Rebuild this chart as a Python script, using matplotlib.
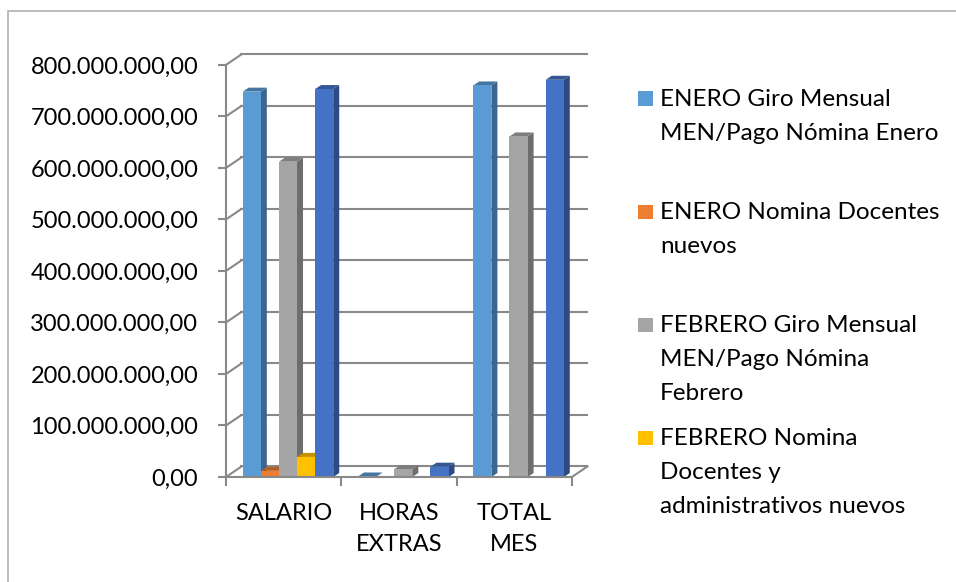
import matplotlib
matplotlib.use('Agg')
import matplotlib.pyplot as plt
from matplotlib.patches import Polygon, Rectangle
from matplotlib.colors import to_rgb
import numpy as np

# datos
categorias = ['SALARIO', 'HORAS\nEXTRAS', 'TOTAL\nMES']
enero_giro = [748e6, 1e6, 760e6]
enero_nuevos = [12e6, 0, 0]
febrero_giro = [612e6, 15e6, 661e6]
febrero_nuevos = [39e6, 0, 0]
serie_5 = [753e6, 20e6, 771e6]
nombres = ['ENERO Giro Mensual\nMEN/Pago Nómina Enero',
           'ENERO Nomina Docentes\nnuevos',
           'FEBRERO Giro Mensual\nMEN/Pago Nómina\nFebrero',
           'FEBRERO Nomina\nDocentes y\nadministrativos nuevos']
colores = ['#5B9BD5', '#ED7D31', '#A5A5A5', '#FFC000', '#4472C4']
series = [enero_giro, enero_nuevos, febrero_giro, febrero_nuevos, serie_5]

plt.rcParams['font.family'] = ['Lato', 'DejaVu Sans']
W, H = 956, 582
gris = '#898989'
fs = 17

fig = plt.figure(figsize=(W / 100, H / 100), dpi=100)
ax = fig.add_axes([226 / W, (H - 477) / H, 362 / W, 424 / H])
ax.set_xlim(0, 3.14)
ax.set_ylim(0, 823e6)

ux = 1 / 115.3          # data x per pixel
uy = 800e6 / 412        # data y per pixel
wdx, wdy = 15.5 * ux, 10.5 * uy   # profundidad de las paredes
bdx, bdy = 6 * ux, 4 * uy         # profundidad de las barras


def oscuro(c, f):
    r, g, b = to_rgb(c)
    return (r * f, g * f, b * f)


# paredes: lineas de division
ticks = np.arange(0, 800e6 + 1, 100e6)
for v in ticks:
    ax.plot([0, wdx], [v, v + wdy], color=gris, lw=1.5, clip_on=False, zorder=1)
    ax.plot([wdx, 3 + wdx], [v + wdy, v + wdy], color=gris, lw=1.5, clip_on=False, zorder=1)
ax.plot([3, 3 + wdx], [0, wdy], color=gris, lw=1.5, clip_on=False, zorder=1)

# barras
ancho = 0.157
inicio = 0.145
x = np.arange(len(categorias))
for j, (vals, col) in enumerate(zip(series, colores)):
    pos = x + inicio + j * ancho
    barras = ax.bar(pos, vals, width=ancho, align='edge', color=col, zorder=3 + j * 0.1)
    for r, v in zip(barras, vals):
        if v == 0:
            r.set_visible(False)
            continue
        x0, w, h = r.get_x(), r.get_width(), r.get_height()
        lado = Polygon([(x0 + w, 0), (x0 + w + bdx, bdy), (x0 + w + bdx, h + bdy), (x0 + w, h)],
                       closed=True, fc=oscuro(col, 0.66), ec='none', zorder=3 + j * 0.1 - 0.01)
        arriba = Polygon([(x0, h), (x0 + w, h), (x0 + w + bdx, h + bdy), (x0 + bdx, h + bdy)],
                         closed=True, fc=oscuro(col, 0.76), ec='none', zorder=3 + j * 0.1 - 0.01)
        ax.add_patch(lado)
        ax.add_patch(arriba)

# ejes
for s in ['top', 'right']:
    ax.spines[s].set_visible(False)
ax.spines['left'].set_bounds(0, 800e6)
ax.spines['bottom'].set_bounds(0, 3)
for s in ['left', 'bottom']:
    ax.spines[s].set_color(gris)
    ax.spines[s].set_linewidth(1.5)
    ax.spines[s].set_zorder(5)
ax.set_yticks(ticks)
ax.set_yticklabels([f'{v:,.2f}'.replace(',', ' ').replace('.', ',').replace(' ', '.') for v in ticks])
ax.tick_params(axis='y', direction='out', length=6, width=1.5, color=gris, pad=14,
               labelsize=fs)
ax.set_xticks([0, 1, 2, 3])
ax.set_xticklabels([])
ax.set_xticks(x + 0.5, minor=True)
ax.set_xticklabels(categorias, minor=True, fontsize=fs, linespacing=1.55)
ax.tick_params(axis='x', which='major', direction='out', length=6.5, width=1.5, color=gris)
ax.tick_params(axis='x', which='minor', length=0, pad=19)
ax.patch.set_visible(False)

# leyenda
for i, (nom, col) in enumerate(zip(nombres, colores)):
    base = 106 + 113 * i
    fig.patches.append(Rectangle((638 / W, 1 - base / H), 14.5 / W, 14.5 / H,
                                 transform=fig.transFigure, fc=col, ec='none'))
    for k, linea in enumerate(nom.split('\n')):
        fig.text(660 / W, 1 - (base + 34 * k) / H, linea, fontsize=fs + 0.5, va='baseline')

# borde
fig.patches.append(Rectangle((8 / W, -0.1), 1.1, 1 - 11 / H + 0.1, transform=fig.transFigure,
                             fill=False, ec='#b0b0b0', lw=1.2))

fig.savefig('out.png', dpi=100)
